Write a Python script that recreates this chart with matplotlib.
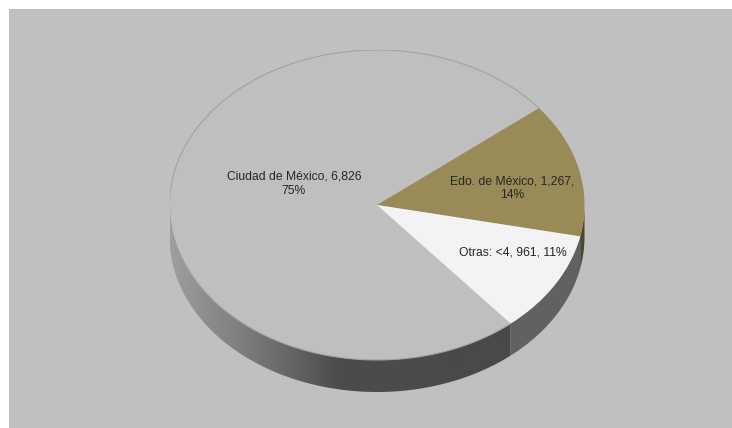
import numpy as np
import matplotlib.pyplot as plt
from matplotlib.patches import Polygon, Rectangle

plt.rcParams["font.family"] = ["Liberation Sans", "DejaVu Sans"]

# ── data ──────────────────────────────────────────────────────────────────────
names = ["Ciudad de México", "Edo. de México", "Otras: <4"]
values = [6826, 1267, 961]
pct_labels = ["75%", "14%", "11%"]
top_colors = ["#bfbfbf", "#988b57", "#f3f3f3"]
side_colors = [None, "#4a4530", "#616161"]   # None -> gradient

# ── geometry (pixels) ─────────────────────────────────────────────────────────
W, H = 732, 428
cx, cy, a, b, depth = 377, 205, 207.5, 155, 32
d = depth / b
start = 310.1

fig = plt.figure(figsize=(W / 100, H / 100), dpi=100)
fig.patch.set_facecolor("white")
fig.patches.append(Rectangle((9 / W, 0), 1 - 9 / W, 1 - 9 / H,
                             transform=fig.transFigure, facecolor="#c0c0c0",
                             edgecolor="none", zorder=-10))

ax = fig.add_axes([(cx - a) / W, (H - (cy + b + depth)) / H,
                   2 * a / W, (2 * b + depth) / H])
ax.set_zorder(5)
ax.pie(values, colors=top_colors, startangle=start, counterclock=False,
       wedgeprops=dict(linewidth=0, edgecolor="none"))
ax.set_aspect("auto")
ax.set_xlim(-1, 1)
ax.set_ylim(-1 - d, 1)
ax.axis("off")

# wedge angle ranges (lo, hi) in degrees
fracs = np.array(values) / sum(values)
bounds = start - 360 * np.concatenate([[0], np.cumsum(fracs)])
ranges = [(bounds[i + 1], bounds[i]) for i in range(len(values))]


def front_part(lo, hi):
    out = []
    for k in (-1, 0, 1):
        s, e = max(lo, 180 + 360 * k), min(hi, 360 + 360 * k)
        if e > s:
            out.append((s, e))
    return out


def band(s, e):
    t = np.radians(np.linspace(s, e, 200))
    top = np.column_stack([np.cos(t), np.sin(t)])
    bot = np.column_stack([np.cos(t[::-1]), np.sin(t[::-1]) - d])
    return np.vstack([top, bot])


for (lo, hi), sc in zip(ranges, side_colors):
    for s, e in front_part(lo, hi):
        verts = band(s, e)
        if sc is None:
            poly = Polygon(verts, closed=True, facecolor="none",
                           edgecolor="none")
            ax.add_patch(poly)
            xs = np.linspace(-1, 1, 400)
            g = np.interp(xs, [-1, -0.6, -0.18, 1], [0.62, 0.47, 0.295, 0.29])
            im = ax.imshow(g[None, :], cmap="gray", vmin=0, vmax=1,
                           extent=(-1, 1, -1 - d, 0), aspect="auto",
                           interpolation="bilinear", zorder=0.5)
            im.set_clip_path(poly)
        else:
            ax.add_patch(Polygon(verts, closed=True, facecolor=sc,
                                 edgecolor="none", zorder=0.5))

# thin rim on the big slice
lo, hi = ranges[0]
t = np.radians(np.linspace(lo, hi, 400))
ax.plot(np.cos(t), np.sin(t), color="#a3a396", lw=0.8, zorder=3)

ax.set_xlim(-1, 1)
ax.set_ylim(-1 - d, 1)

# ── labels ────────────────────────────────────────────────────────────────────
label_pos = [(-0.401, 0.135), (0.653, 0.108), (0.655, -0.308)]
texts = [f"{names[0]}, {values[0]:,}\n{pct_labels[0]}",
         f"{names[1]}, {values[1]:,},\n{pct_labels[1]}",
         f"{names[2]}, {values[2]}, {pct_labels[2]}"]
for (x, y), s in zip(label_pos, texts):
    ax.text(x, y, s, ha="center", va="center", fontsize=8.7,
            color="#262626", linespacing=1.25, zorder=5)

fig.savefig("out.png", dpi=100)
